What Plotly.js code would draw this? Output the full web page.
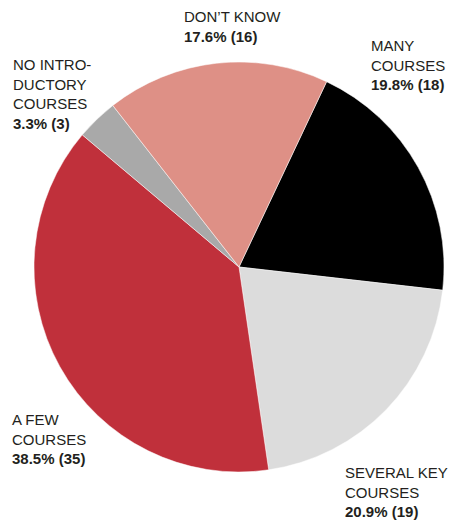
<!DOCTYPE html>
<html>
<head>
<meta charset="utf-8">
<script src="https://cdn.plot.ly/plotly-3.0.1.min.js"></script>
<style>html,body{margin:0;padding:0;background:#fff;}#chart{width:449px;height:523px;}</style>
</head>
<body>
<div id="chart"></div>
<script>
const categories = ["MANY COURSES", "SEVERAL KEY COURSES", "A FEW COURSES", "NO INTRODUCTORY COURSES", "DON\u2019T KNOW"];
const labelLines = ["MANY<br>COURSES", "SEVERAL KEY<br>COURSES", "A FEW<br>COURSES", "NO INTRO-<br>DUCTORY<br>COURSES", "DON\u2019T KNOW"];
const counts = [18, 19, 35, 3, 16];
const colors = ["#000000", "#dcdcdc", "#c0303b", "#a9a9a9", "#de9086"];

const W = 449, H = 523;
const cx = 239, cy = 267, R = 205;
// label anchor positions (px, top-left of text block)
const labelPos = [[369, 35], [343, 462], [10, 409], [11, 54], [182, 6]];

const total = counts.reduce((a, b) => a + b, 0);
const annotations = counts.map((v, i) => ({
  xref: "paper", yref: "paper",
  x: labelPos[i][0] / W, y: 1 - labelPos[i][1] / H,
  xanchor: "left", yanchor: "top", align: "left", showarrow: false,
  text: labelLines[i] + "<br><b>" + (100 * v / total).toFixed(1) + "% (" + v + ")</b>",
  font: {family: "'Liberation Sans', Arial, sans-serif", size: 15, color: "#231f20"}
}));

const data = [{
  type: "pie",
  labels: categories,
  values: counts,
  sort: false,
  direction: "clockwise",
  rotation: 25.3,
  marker: {colors: colors, line: {color: "#ffffff", width: 0.5}},
  textinfo: "none",
  hoverinfo: "label+value+percent",
  domain: {x: [(cx - R) / W, (cx + R) / W], y: [(H - cy - R) / H, (H - cy + R) / H]}
}];

const layout = {
  width: W, height: H,
  margin: {l: 0, r: 0, t: 0, b: 0},
  showlegend: false,
  paper_bgcolor: "#ffffff",
  annotations: annotations
};

Plotly.newPlot("chart", data, layout, {displayModeBar: false, staticPlot: true});
</script>
</body>
</html>
